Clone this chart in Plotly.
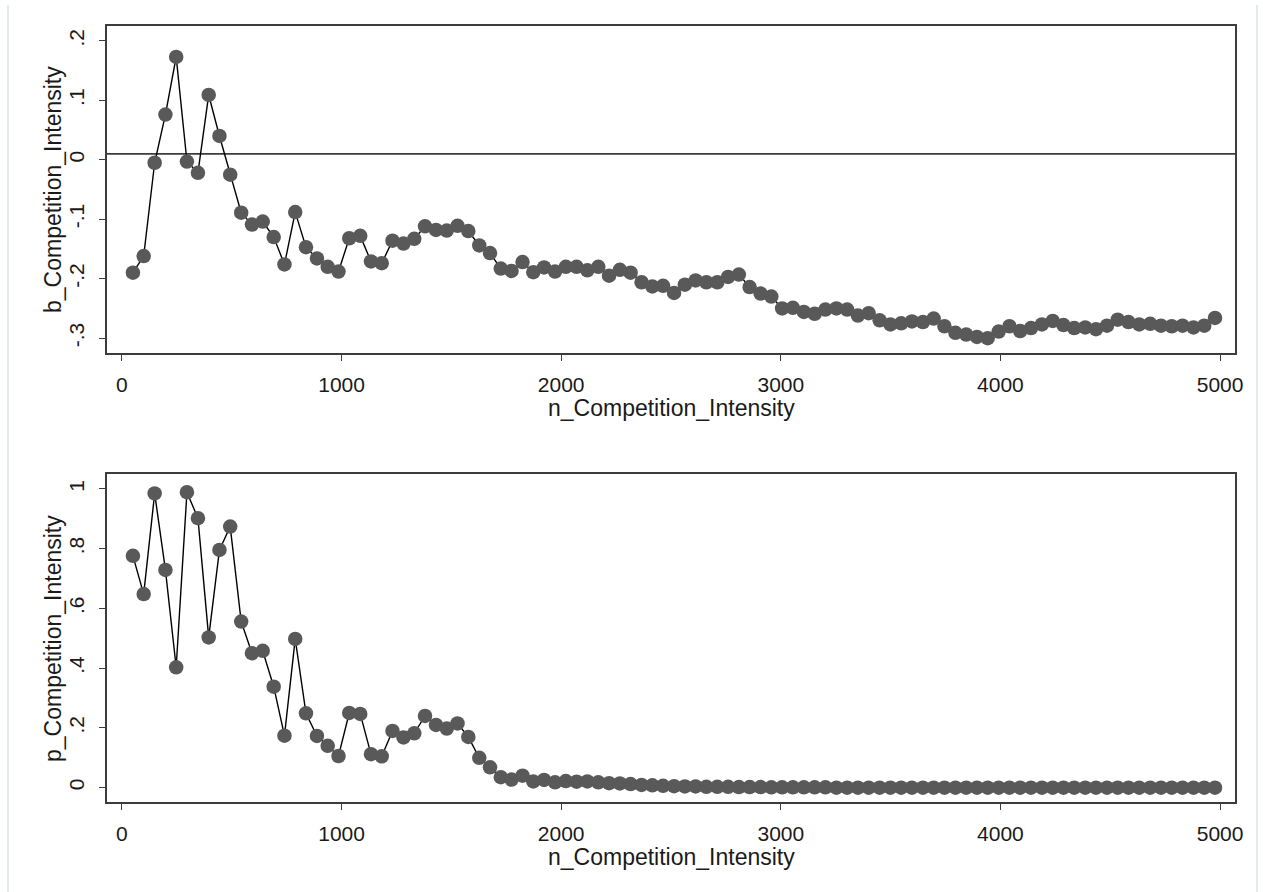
import plotly.graph_objects as go

# Sample size (n) at which the Competition_Intensity coefficient was estimated
n_competition_intensity = [
    50, 99, 149, 198, 247, 296, 346, 395, 444, 493,
    543, 592, 641, 691, 740, 789, 838, 888, 937, 986,
    1035, 1085, 1134, 1183, 1232, 1282, 1331, 1380, 1430, 1479,
    1528, 1577, 1627, 1676, 1725, 1774, 1824, 1873, 1922, 1972,
    2021, 2070, 2119, 2169, 2218, 2267, 2316, 2366, 2415, 2464,
    2514, 2563, 2612, 2661, 2711, 2760, 2809, 2858, 2908, 2957,
    3006, 3055, 3105, 3154, 3203, 3253, 3302, 3351, 3400, 3450,
    3499, 3548, 3597, 3647, 3696, 3745, 3795, 3844, 3893, 3942,
    3992, 4041, 4090, 4139, 4189, 4238, 4287, 4336, 4386, 4435,
    4485, 4534, 4583, 4632, 4682, 4731, 4780, 4829, 4879, 4928,
    4977,
]

# Estimated coefficient
b_competition_intensity = [
    -0.190, -0.162, -0.005, 0.076, 0.173, -0.003, -0.022, 0.109, 0.040, -0.025,
    -0.089, -0.109, -0.104, -0.130, -0.176, -0.088, -0.147, -0.166, -0.180, -0.188,
    -0.132, -0.128, -0.171, -0.174, -0.136, -0.141, -0.133, -0.112, -0.118, -0.119,
    -0.111, -0.120, -0.144, -0.157, -0.183, -0.187, -0.172, -0.189, -0.181, -0.188,
    -0.180, -0.180, -0.186, -0.180, -0.195, -0.185, -0.190, -0.206, -0.213, -0.212,
    -0.224, -0.210, -0.203, -0.206, -0.206, -0.197, -0.193, -0.214, -0.225, -0.230,
    -0.250, -0.249, -0.256, -0.259, -0.252, -0.250, -0.252, -0.262, -0.258, -0.270,
    -0.277, -0.275, -0.272, -0.273, -0.267, -0.280, -0.291, -0.294, -0.298, -0.300,
    -0.289, -0.280, -0.288, -0.283, -0.277, -0.271, -0.278, -0.283, -0.282, -0.285,
    -0.279, -0.269, -0.273, -0.277, -0.276, -0.279, -0.280, -0.279, -0.282, -0.279,
    -0.266,
]

# p-value of the coefficient
p_competition_intensity = [
    0.776, 0.648, 0.985, 0.729, 0.403, 0.989, 0.902, 0.503, 0.796, 0.874,
    0.556, 0.450, 0.458, 0.338, 0.174, 0.498, 0.249, 0.173, 0.140, 0.106,
    0.250, 0.247, 0.112, 0.105, 0.190, 0.168, 0.182, 0.240, 0.210, 0.198,
    0.215, 0.170, 0.100, 0.068, 0.035, 0.027, 0.040, 0.021, 0.026, 0.018,
    0.022, 0.020, 0.021, 0.018, 0.015, 0.014, 0.012, 0.009, 0.008, 0.006,
    0.005, 0.004, 0.004, 0.003, 0.003, 0.003, 0.002, 0.002, 0.002, 0.001,
    0.001, 0.001, 0.001, 0.001, 0.001, 0.000, 0.000, 0.000, 0.000, 0.000,
    0.000, 0.000, 0.000, 0.000, 0.000, 0.000, 0.000, 0.000, 0.000, 0.000,
    0.000, 0.000, 0.000, 0.000, 0.000, 0.000, 0.000, 0.000, 0.000, 0.000,
    0.000, 0.000, 0.000, 0.000, 0.000, 0.000, 0.000, 0.000, 0.000, 0.000,
    0.000,
]

x_tick_vals = [0, 1000, 2000, 3000, 4000, 5000]
b_tick_vals = [-0.3, -0.2, -0.1, 0, 0.1, 0.2]
b_tick_text = ["-.3", "-.2", "-.1", "0", ".1", ".2"]
p_tick_vals = [0, 0.2, 0.4, 0.6, 0.8, 1]
p_tick_text = ["0", ".2", ".4", ".6", ".8", "1"]
b_reference = 0.01

FONT = "Liberation Sans, Arial, sans-serif"
TEXT = "#1a1a1a"
FRAME = "#3c3c3c"
MARKER = "#595959"

W, H = 1263, 892
ML, MR, MT, MB = 107, 28, 26, 90
PW, PH = W - ML - MR, H - MT - MB


def px_to_paper_x(px):
    return (px - ML) / PW


def px_to_paper_y(py):
    return (H - MB - py) / PH


fig = go.Figure()

series = [
    (b_competition_intensity, "x", "y"),
    (p_competition_intensity, "x2", "y2"),
]
for values, xa, ya in series:
    fig.add_trace(go.Scatter(
        x=n_competition_intensity, y=values, xaxis=xa, yaxis=ya,
        mode="lines+markers",
        line=dict(color="#000000", width=1.4),
        marker=dict(color=MARKER, size=14.5, line=dict(width=0)),
        showlegend=False, hoverinfo="x+y",
    ))

x_common = dict(
    range=[-68, 5068], tickmode="array", tickvals=x_tick_vals,
    ticks="outside", ticklen=6, tickwidth=1, tickcolor=FRAME,
    showline=True, linecolor=FRAME, linewidth=1.6, mirror=True,
    showgrid=False, zeroline=False, automargin=False,
    tickfont=dict(family=FONT, size=21, color=TEXT),
    ticklabelstandoff=6,
)
y_common = dict(
    ticks="outside", ticklen=6, tickwidth=1, tickcolor=FRAME,
    showline=True, linecolor=FRAME, linewidth=1.6, mirror=True,
    showgrid=False, zeroline=False, automargin=False, tickangle=-90,
    tickfont=dict(family=FONT, size=21, color=TEXT),
    ticklabelstandoff=7,
)

top_dom = [px_to_paper_y(353), 1.0]
bot_dom = [0.0, px_to_paper_y(474)]

fig.update_layout(
    width=W, height=H,
    margin=dict(l=ML, r=MR, t=MT, b=MB),
    paper_bgcolor="#ffffff", plot_bgcolor="#ffffff",
    font=dict(family=FONT, color=TEXT),
    xaxis=dict(**x_common, anchor="y"),
    yaxis=dict(**y_common, domain=top_dom, anchor="x",
               range=[-0.325, 0.225], tickvals=b_tick_vals, ticktext=b_tick_text),
    xaxis2=dict(**x_common, anchor="y2"),
    yaxis2=dict(**y_common, domain=bot_dom, anchor="x2",
                range=[-0.048, 1.05], tickvals=p_tick_vals, ticktext=p_tick_text),
)

# Horizontal reference line across the coefficient panel
fig.add_shape(type="line", xref="x domain", yref="y", x0=0, x1=1,
              y0=b_reference, y1=b_reference,
              line=dict(color=FRAME, width=1.6), layer="below")

# Axis titles
title_font = dict(family=FONT, size=23, color=TEXT)
annotations = [
    dict(text="n_Competition_Intensity", x=px_to_paper_x(671), y=px_to_paper_y(408)),
    dict(text="n_Competition_Intensity", x=px_to_paper_x(671), y=px_to_paper_y(857)),
    dict(text="b_Competition_Intensity", x=px_to_paper_x(53), y=px_to_paper_y(190), textangle=-90),
    dict(text="p_Competition_Intensity", x=px_to_paper_x(53), y=px_to_paper_y(639), textangle=-90),
]
for a in annotations:
    fig.add_annotation(xref="paper", yref="paper", showarrow=False,
                       xanchor="center", yanchor="middle", font=title_font, **a)

# Faint outer frame of the graph region
for edge in (8, 1257):
    fig.add_shape(type="line", xref="paper", yref="paper",
                  x0=px_to_paper_x(edge), x1=px_to_paper_x(edge),
                  y0=px_to_paper_y(892), y1=px_to_paper_y(5),
                  line=dict(color="#e3eaee", width=2))

fig.write_html("out.html")
